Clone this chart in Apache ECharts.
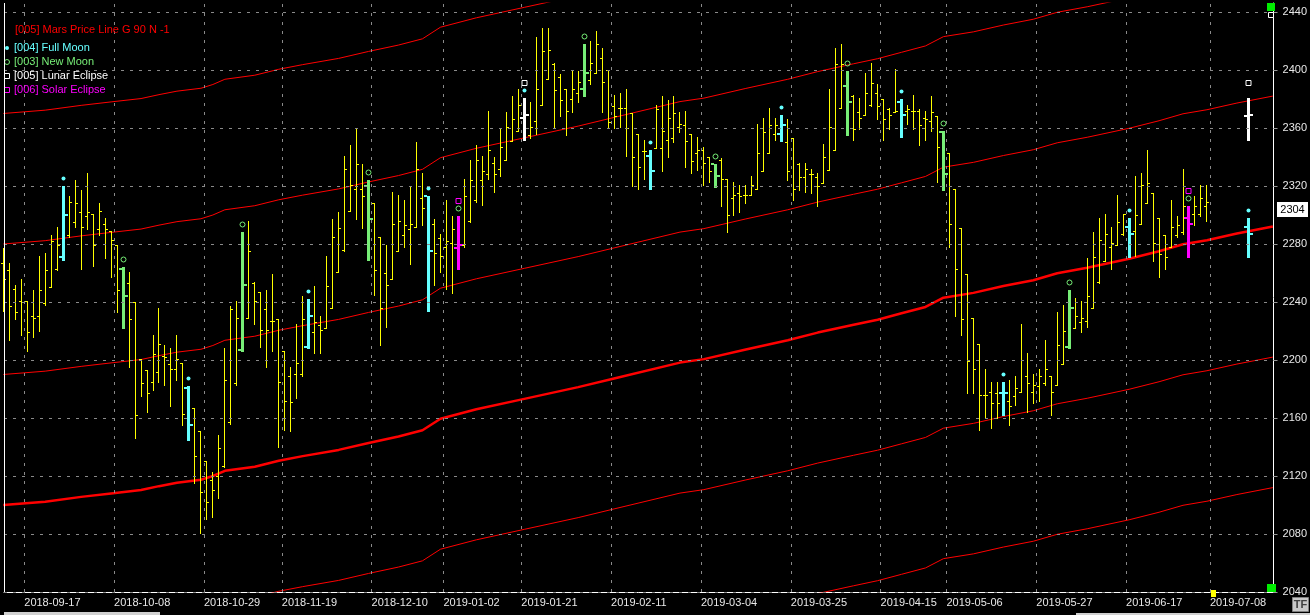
<!DOCTYPE html>
<html><head><meta charset="utf-8">
<script src="https://cdn.jsdelivr.net/npm/echarts@6/dist/echarts.min.js"></script>
<style>html,body{margin:0;padding:0;background:#000;}#c{width:1310px;height:615px;}</style>
</head><body><div id="c"></div>
<script>
// ---------------- DATA ----------------
const openP = [
2267,2262,2249,2241,2241,2230,2230,2239,2250,2263,
2271,2286,2295,2302,2299,2301,2290,2294,2289,2279,
2263,2253,2240,2201,2193,2185,2192,2203,2197,2194,
2198,2181,2167,2151,2130,2117,2120,2127,2157,2184,
2207,2229,2253,2247,2235,2227,2228,2206,2189,2190,
2190,2209,2219,2224,2222,2236,2261,2276,2303,2318,
2318,2320,2308,2285,2260,2256,2275,2286,2290,2292,
2312,2313,2294,2284,2278,2281,2277,2279,2296,2310,
2324,2328,2336,2332,2338,2351,2358,2367,2355,2365,
2376,2394,2404,2395,2387,2380,2384,2387,2393,2398,
2408,2400,2375,2374,2374,2370,2356,2344,2341,2346,
2346,2352,2353,2361,2362,2356,2343,2345,2340,2335,
2338,2325,2312,2315,2314,2314,2318,2330,2343,2356,
2356,2350,2353,2335,2326,2328,2326,2322,2331,2345,
2374,2389,2382,2371,2369,2376,2384,2380,2373,2371,
2378,2372,2372,2372,2367,2365,2368,2357,2343,2318,
2291,2259,2229,2211,2176,2178,2177,2177,2172,2175,
2178,2189,2178,2182,2184,2189,2183,2197,2209,2222,
2226,2227,2236,2254,2268,2278,2279,2287,2292,2289,
2294,2308,2315,2298,2286,2278,2286,2288,2298,2301,
2301,2306];
const highP = [
2277,2267,2252,2256,2241,2248,2272,2274,2286,2292,
2320,2313,2324,2317,2329,2301,2308,2298,2289,2279,
2264,2261,2240,2201,2193,2217,2236,2210,2208,2217,
2198,2182,2167,2151,2130,2123,2148,2208,2237,2241,
2288,2296,2254,2247,2248,2259,2228,2206,2195,2225,
2244,2242,2251,2230,2272,2297,2302,2341,2348,2360,
2335,2324,2308,2285,2279,2316,2314,2310,2320,2350,
2329,2313,2297,2287,2310,2299,2299,2325,2338,2348,
2341,2372,2340,2360,2371,2382,2387,2381,2378,2423,
2429,2429,2405,2397,2387,2399,2399,2418,2420,2427,
2415,2400,2383,2384,2387,2370,2356,2352,2345,2376,
2382,2379,2382,2371,2372,2356,2354,2347,2340,2335,
2339,2325,2323,2321,2321,2327,2363,2367,2374,2367,
2369,2366,2353,2336,2336,2332,2329,2349,2387,2415,
2418,2399,2383,2381,2398,2405,2390,2380,2374,2401,
2380,2376,2383,2373,2372,2382,2368,2358,2343,2318,
2291,2259,2229,2211,2194,2185,2185,2185,2186,2189,
2225,2205,2190,2194,2214,2189,2233,2238,2248,2243,
2241,2270,2288,2298,2301,2292,2314,2301,2298,2327,
2329,2345,2315,2298,2286,2310,2299,2332,2306,2313,
2321,2321];
const lowP = [
2234,2214,2228,2217,2206,2216,2220,2238,2250,2262,
2269,2285,2292,2263,2290,2265,2286,2270,2257,2233,
2222,2195,2146,2175,2164,2179,2185,2183,2168,2186,
2155,2145,2115,2081,2090,2092,2105,2126,2156,2183,
2206,2229,2225,2209,2195,2206,2140,2152,2151,2174,
2189,2208,2205,2205,2222,2236,2261,2275,2303,2297,
2291,2269,2245,2210,2223,2256,2275,2278,2266,2292,
2293,2234,2252,2261,2249,2246,2263,2278,2295,2309,
2307,2325,2316,2327,2338,2351,2358,2352,2353,2356,
2376,2394,2361,2368,2355,2371,2378,2382,2390,2398,
2371,2361,2360,2361,2341,2320,2318,2325,2318,2346,
2330,2340,2350,2357,2333,2329,2331,2321,2323,2319,
2306,2288,2300,2302,2308,2314,2318,2330,2343,2352,
2351,2324,2310,2317,2316,2315,2306,2322,2331,2345,
2374,2355,2352,2359,2369,2375,2366,2352,2359,2371,
2354,2363,2359,2348,2352,2358,2323,2317,2278,2230,
2217,2177,2177,2152,2161,2153,2160,2162,2155,2169,
2178,2164,2170,2172,2183,2162,2183,2197,2208,2222,
2219,2223,2236,2253,2268,2263,2279,2286,2271,2272,
2294,2308,2268,2257,2263,2278,2285,2287,2271,2293,
2299,2296];
const closeP = [
2256,2237,2233,2240,2219,2229,2248,2262,2282,2279,
2300,2309,2308,2292,2302,2279,2303,2290,2283,2248,
2244,2228,2162,2184,2177,2204,2211,2202,2194,2201,
2163,2155,2134,2109,2102,2110,2139,2186,2235,2229,
2252,2275,2241,2221,2221,2227,2185,2172,2171,2198,
2228,2230,2226,2221,2251,2285,2291,2332,2321,2335,
2313,2297,2262,2236,2252,2294,2296,2293,2294,2332,
2305,2275,2274,2272,2282,2290,2279,2313,2324,2338,
2330,2345,2328,2347,2361,2366,2376,2369,2361,2387,
2413,2414,2386,2379,2372,2387,2392,2398,2405,2418,
2392,2364,2368,2374,2360,2340,2333,2344,2330,2373,
2358,2367,2370,2363,2351,2337,2345,2336,2330,2327,
2325,2300,2314,2313,2314,2321,2343,2357,2362,2362,
2362,2330,2318,2326,2332,2328,2320,2340,2361,2404,
2404,2378,2359,2367,2384,2391,2375,2366,2369,2372,
2369,2373,2372,2362,2366,2371,2347,2328,2294,2263,
2228,2199,2194,2176,2176,2170,2170,2177,2168,2181,
2200,2184,2183,2189,2194,2178,2210,2220,2236,2230,
2229,2244,2271,2283,2287,2281,2295,2301,2287,2300,
2321,2322,2281,2273,2271,2292,2293,2306,2294,2306,
2312,2309];

// event bars (bar index)
const fullMoonBars = [10,31,51,71,87,108,130,150,167,188];
const newMoonBars = [20,40,61,76,97,119,141,157,178,198];
const lunarEclipseBars = [87];
const solarEclipseBars = [76,198];

// projected event bars at a future bar: [open, high, low, close]
const projBar = 208;
const projLunar = [2368,2381,2352,2369];
const projFullMoon = [2292,2298,2271,2287];

// Mars price line (base harmonic), read at these bars
const marsBars = [0,7,13,18,23,26,29,33,35,37,42,46,50,56,61,66,70,73,79,87,96,102,113,117,124,131,136,142,146,150,154,157,162,167,172,176,181,188,193,197,201,206,212];
const marsValues = [2100.0,2102.3,2105.6,2108.0,2110.3,2113.0,2115.4,2117.4,2120.0,2123.6,2126.4,2130.5,2133.7,2138.0,2142.8,2147.2,2151.5,2159.5,2166.0,2173.2,2181.3,2187.3,2198.2,2200.6,2207.3,2213.6,2218.9,2224.3,2227.8,2232.2,2236.6,2243.0,2246.3,2251.0,2255.0,2259.8,2263.6,2269.8,2275.0,2279.8,2282.6,2287.2,2292.0];
const harmonicOffsets = [-180,-90,0,90,180,270];

// axis ticks
const tickBars = [4,19,34,47,62,74,87,102,117,132,147,158,173,188,202];
const tickLabels = ['2018-09-17','2018-10-08','2018-10-29','2018-11-19','2018-12-10','2019-01-02','2019-01-21','2019-02-11','2019-03-04','2019-03-25','2019-04-15','2019-05-06','2019-05-27','2019-06-17','2019-07-08'];
const yTicks = [2040,2080,2120,2160,2200,2240,2280,2320,2360,2400,2440];
const lastPrice = 2304;
const todayBar = 202;

// ---------------- STYLE ----------------
const C_YELLOW = '#ffff00', C_CYAN = '#66ffff', C_GREEN = '#77ee77', C_MAGENTA = '#ff00ff', C_WHITE = '#ffffff', C_RED = '#ff0000';
const FONT = "'Liberation Sans', Arial, sans-serif";

function barColor(k) {
  if (solarEclipseBars.includes(k)) return C_MAGENTA;
  if (lunarEclipseBars.includes(k)) return C_WHITE;
  if (fullMoonBars.includes(k)) return C_CYAN;
  if (newMoonBars.includes(k)) return C_GREEN;
  return null;
}

function drawBar(api, k, o, h, l, c, color, thick, marks) {
  const pH = api.coord([k, h]);
  const x = Math.round(pH[0] - 0.5);
  const yH = Math.round(pH[1]);
  const yL = Math.round(api.coord([k, l])[1]);
  const yO = Math.round(api.coord([k, o])[1]);
  const yC = Math.round(api.coord([k, c])[1]);
  const ch = [];
  if (thick) {
    ch.push({type:'rect', shape:{x:x-1, y:yH, width:3, height:Math.max(1, yL-yH+1)}, style:{fill:color}});
    ch.push({type:'rect', shape:{x:x-4, y:yO-1, width:3, height:2}, style:{fill:color}});
    ch.push({type:'rect', shape:{x:x+2, y:yC-1, width:3, height:2}, style:{fill:color}});
  } else {
    ch.push({type:'rect', shape:{x:x, y:yH, width:1, height:Math.max(1, yL-yH+1)}, style:{fill:color}});
    ch.push({type:'rect', shape:{x:x-2, y:yO, width:2, height:1}, style:{fill:color}});
    ch.push({type:'rect', shape:{x:x+1, y:yC, width:2, height:1}, style:{fill:color}});
  }
  const cx = x + 0.5;
  marks.forEach(m => {
    if (m === 'full') ch.push({type:'circle', shape:{cx:cx, cy:yH-7.5, r:2}, style:{fill:C_CYAN}});
    if (m === 'new') ch.push({type:'circle', shape:{cx:cx, cy:yH-7.5, r:2.5}, style:{fill:null, stroke:C_GREEN, lineWidth:1}});
    if (m === 'lunar') ch.push({type:'rect', shape:{x:x-2, y:yH-17.5, width:5, height:5}, style:{fill:null, stroke:C_WHITE, lineWidth:1}});
    if (m === 'solar') ch.push({type:'rect', shape:{x:x-2, y:yH-17.5, width:5, height:5}, style:{fill:null, stroke:C_MAGENTA, lineWidth:1}});
  });
  return {type:'group', children:ch};
}

const barData = openP.map((o, k) => [k, o, highP[k], lowP[k], closeP[k]]);
const projData = [
  [projBar, projLunar[0], projLunar[1], projLunar[2], projLunar[3], 'lunar'],
  [projBar, projFullMoon[0], projFullMoon[1], projFullMoon[2], projFullMoon[3], 'full']
];

const marsSeries = harmonicOffsets.map(off => ({
  type:'line', name:'mars'+off, z:2, silent:true, showSymbol:false, symbol:'none',
  data: marsBars.map((b, i) => [b, marsValues[i] + off]),
  lineStyle:{color:C_RED, width: off === 0 ? 2.5 : 1},
  animation:false, clip:true
}));

const gridLineStyle = {color:'#8a8a8a', width:1, type:[3,6]};

const option = {
  backgroundColor:'#000',
  animation:false,
  grid:{left:4, right:34, top:3, bottom:23},
  xAxis:{
    type:'value', min:0.117, max:212.117,
    splitLine:{show:false},
    axisLine:{show:true, onZero:false, lineStyle:{color:'#ffffff', width:1}},
    axisTick:{show:false},
    axisLabel:{
      show:true, customValues: tickBars.map(b => b - 0.5),
      color:'#e8e8e8', fontSize:11, fontFamily:FONT, align:'left', margin:5,
      formatter: v => { const i = tickBars.indexOf(Math.round(v + 0.5)); return i >= 0 ? tickLabels[i] : ''; }
    }
  },
  yAxis:{
    type:'value', position:'right', min:2040, max:2446.2, interval:40,
    splitLine:{show:false},
    axisLine:{show:true, lineStyle:{color:'#ffffff', width:1}},
    axisTick:{show:true, length:4, customValues:yTicks, lineStyle:{color:'#9a9a9a'}},
    axisLabel:{show:true, customValues:yTicks, color:'#e8e8e8', fontSize:11, fontFamily:FONT, margin:9,
      formatter: v => (v % 40 === 0 ? String(v) : '')}
  },
  series:[
    {
      type:'line', name:'grid', z:1, silent:true, data:[[0,2000]], showSymbol:false, lineStyle:{opacity:0},
      markLine:{
        silent:true, symbol:'none', label:{show:false}, animation:false,
        lineStyle:gridLineStyle,
        data: tickBars.map(b => ({xAxis: b - 0.5})).concat(yTicks.map(v => ({yAxis: v})))
      }
    },
    ...marsSeries,
    {
      type:'custom', name:'bars', z:3, silent:true,
      data: barData,
      encode:{x:0, y:[1,2,3,4]},
      renderItem:(params, api) => {
        const k = api.value(0);
        const col = barColor(k);
        const marks = [];
        if (fullMoonBars.includes(k)) marks.push('full');
        if (newMoonBars.includes(k)) marks.push('new');
        if (lunarEclipseBars.includes(k)) marks.push('lunar');
        if (solarEclipseBars.includes(k)) marks.push('solar');
        return drawBar(api, k, api.value(1), api.value(2), api.value(3), api.value(4), col || C_YELLOW, !!col, marks);
      }
    },
    {
      type:'custom', name:'projections', z:3, silent:true,
      data: projData,
      encode:{x:0, y:[1,2,3,4]},
      renderItem:(params, api) => {
        const d = projData[params.dataIndex];
        const col = d[5] === 'lunar' ? C_WHITE : C_CYAN;
        return drawBar(api, d[0], d[1], d[2], d[3], d[4], col, true, [d[5]]);
      }
    }
  ]
};

const chart = echarts.init(document.getElementById('c'));
chart.setOption(option);

// ---------------- decorations & legend ----------------
const yLast = chart.convertToPixel({yAxisIndex:0}, lastPrice);
const xToday = chart.convertToPixel({xAxisIndex:0}, todayBar);
const legend = [
  {text:'[005] Mars Price Line G 90 N -1', color:C_RED, mark:null, x:15, y:30},
  {text:'[004] Full Moon', color:C_CYAN, mark:'dot', x:14, y:48},
  {text:'[003] New Moon', color:C_GREEN, mark:'circle', x:14, y:62},
  {text:'[005] Lunar Eclipse', color:C_WHITE, mark:'square', x:14, y:76},
  {text:'[006] Solar Eclipse', color:C_MAGENTA, mark:'square', x:14, y:90}
];
const g = [];
legend.forEach(it => {
  g.push({type:'text', x:it.x, y:it.y, silent:true, z:10,
    style:{text:it.text, fill:it.color, font:'11px ' + FONT, verticalAlign:'middle'}});
  if (it.mark === 'dot') g.push({type:'circle', shape:{cx:7, cy:it.y, r:2}, style:{fill:it.color}, silent:true, z:10});
  if (it.mark === 'circle') g.push({type:'circle', shape:{cx:7, cy:it.y, r:2.5}, style:{fill:null, stroke:it.color, lineWidth:1}, silent:true, z:10});
  if (it.mark === 'square') g.push({type:'rect', shape:{x:4.5, y:it.y-2.5, width:5, height:5}, style:{fill:null, stroke:it.color, lineWidth:1}, silent:true, z:10});
});
// left frame
g.push({type:'rect', shape:{x:4, y:3, width:1, height:589}, style:{fill:'#ffffff'}, silent:true, z:10});
// last price box
g.push({type:'rect', shape:{x:1277, y:Math.round(yLast) - 7, width:31, height:15}, style:{fill:'#ffffff'}, silent:true, z:10});
g.push({type:'text', x:1292.5, y:Math.round(yLast) + 1, silent:true, z:11,
  style:{text:String(lastPrice), fill:'#000', font:'11px ' + FONT, align:'center', verticalAlign:'middle'}});
// green corner markers
g.push({type:'rect', shape:{x:1267, y:3, width:8, height:8}, style:{fill:'#00ee00'}, silent:true, z:10});
g.push({type:'rect', shape:{x:1268.5, y:12.5, width:5, height:5}, style:{fill:'#000', stroke:'#ffffff', lineWidth:1}, silent:true, z:10});
g.push({type:'rect', shape:{x:1267, y:584, width:9, height:8}, style:{fill:'#00ee00'}, silent:true, z:10});
// today marker
g.push({type:'rect', shape:{x:Math.round(xToday) - 2, y:590, width:5, height:7}, style:{fill:'#ffff00'}, silent:true, z:10});
// TF box
g.push({type:'rect', shape:{x:1292.5, y:597.5, width:16, height:14}, style:{fill:'#c8c8c8', stroke:'#808080', lineWidth:1}, silent:true, z:10});
g.push({type:'text', x:1300.5, y:605, silent:true, z:11,
  style:{text:'TF', fill:'#404040', font:'bold 11px ' + FONT, align:'center', verticalAlign:'middle'}});
// bottom strip
g.push({type:'rect', shape:{x:4, y:612, width:156, height:3}, style:{fill:'#d0d0d0'}, silent:true, z:10});
g.push({type:'rect', shape:{x:1076, y:613, width:234, height:2}, style:{fill:'#d0d0d0'}, silent:true, z:10});
chart.setOption({graphic:g});
</script>
</body></html>
